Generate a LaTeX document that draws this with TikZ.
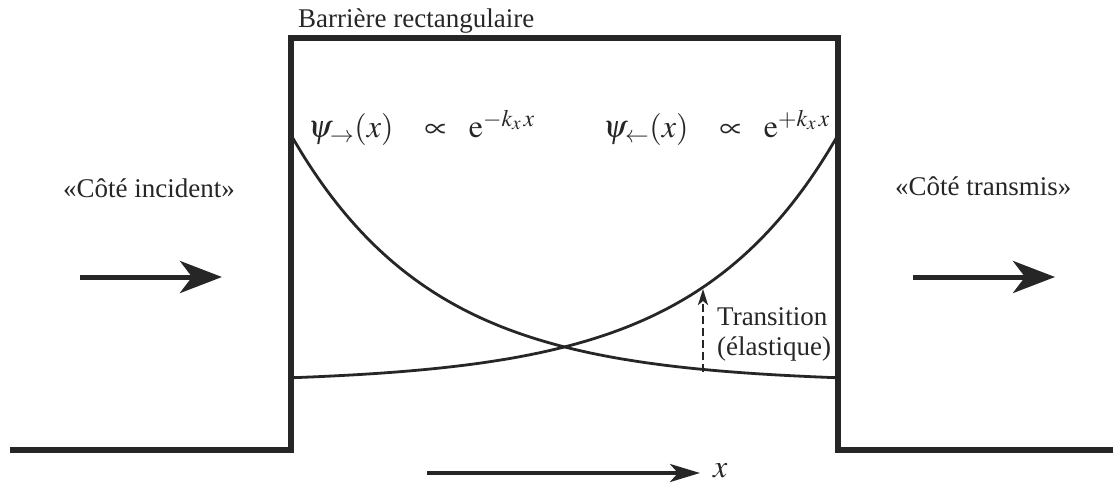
\documentclass[tikz,border=0pt]{standalone}
\usepackage{mathptmx}
\usepackage[no-math]{fontspec}
\setmainfont{Liberation Serif}
\usetikzlibrary{arrows.meta}
\begin{document}
\begin{tikzpicture}[x=1pt,y=-1pt,
  font=\fontsize{27}{31}\selectfont,
  wall/.style={line width=5.5pt, line join=miter, draw=black!85},
  wave/.style={line width=2.8pt, draw=black!85},
  bigarrow/.style={line width=5pt, draw=black!85, -{Stealth[length=42pt,width=32pt,inset=12pt]}},
  axisarrow/.style={line width=3.5pt, draw=black!85, -{Stealth[length=30pt,width=18pt,inset=8pt]}},
  transarrow/.style={line width=2.5pt, draw=black!85, dash pattern=on 8pt off 4pt, -{Stealth[length=16pt,width=10pt,inset=4pt]}},
  lbl/.style={inner sep=0pt, anchor=base west, text=black!85},
  mathlbl/.style={lbl, font=\fontsize{32}{36}\selectfont}]
\useasboundingbox (0,0) rectangle (1113,484);
% barrier profile
\draw[wall] (10,450) -- (291,450) -- (291,38) -- (838,38) -- (838,450) -- (1113,450);
% evanescent waves
\draw[wave] plot[domain=291:838, samples=120] (\x, {383-248*exp(-0.00705*(\x-291))});
\draw[wave] plot[domain=291:838, samples=120] (\x, {383-248*exp(-0.00705*(838-\x))});
% labels
\node[lbl] (barr) at (298,28) {Barrière rectangulaire};
\node[lbl] (inc) at (63,197) {«Côté incident»};
\node[lbl] (tra) at (895,195) {«Côté transmis»};
\node[mathlbl] (psiR) at (308,138) {$\psi_{\to}(x)\hspace{0.75em}\propto\hspace{0.45em}\mathrm{e}^{-k_x\,x}$};
\node[mathlbl] (psiL) at (603,138) {$\psi_{\leftarrow}(x)\hspace{0.75em}\propto\hspace{0.45em}\mathrm{e}^{+k_x\,x}$};
\node[lbl] (trans) at (717,325) {Transition};
\node[lbl] (elas) at (717,355) {(élastique)};
\node[mathlbl] (xl) at (713,477) {$x$};
% arrows
\coordinate (inA) at (80,277);
\coordinate (inB) at (222,277);
\coordinate (trA) at (913,277);
\coordinate (trB) at (1055,277);
\coordinate (axA) at (427,473);
\coordinate (axB) at (700,473);
\coordinate (dA) at (703,372);
\coordinate (dB) at (703,289);
\draw[bigarrow] (inA) -- (inB);
\draw[bigarrow] (trA) -- (trB);
\draw[axisarrow] (axA) -- (axB);
\draw[transarrow] (dA) -- (dB);
\end{tikzpicture}
\end{document}
